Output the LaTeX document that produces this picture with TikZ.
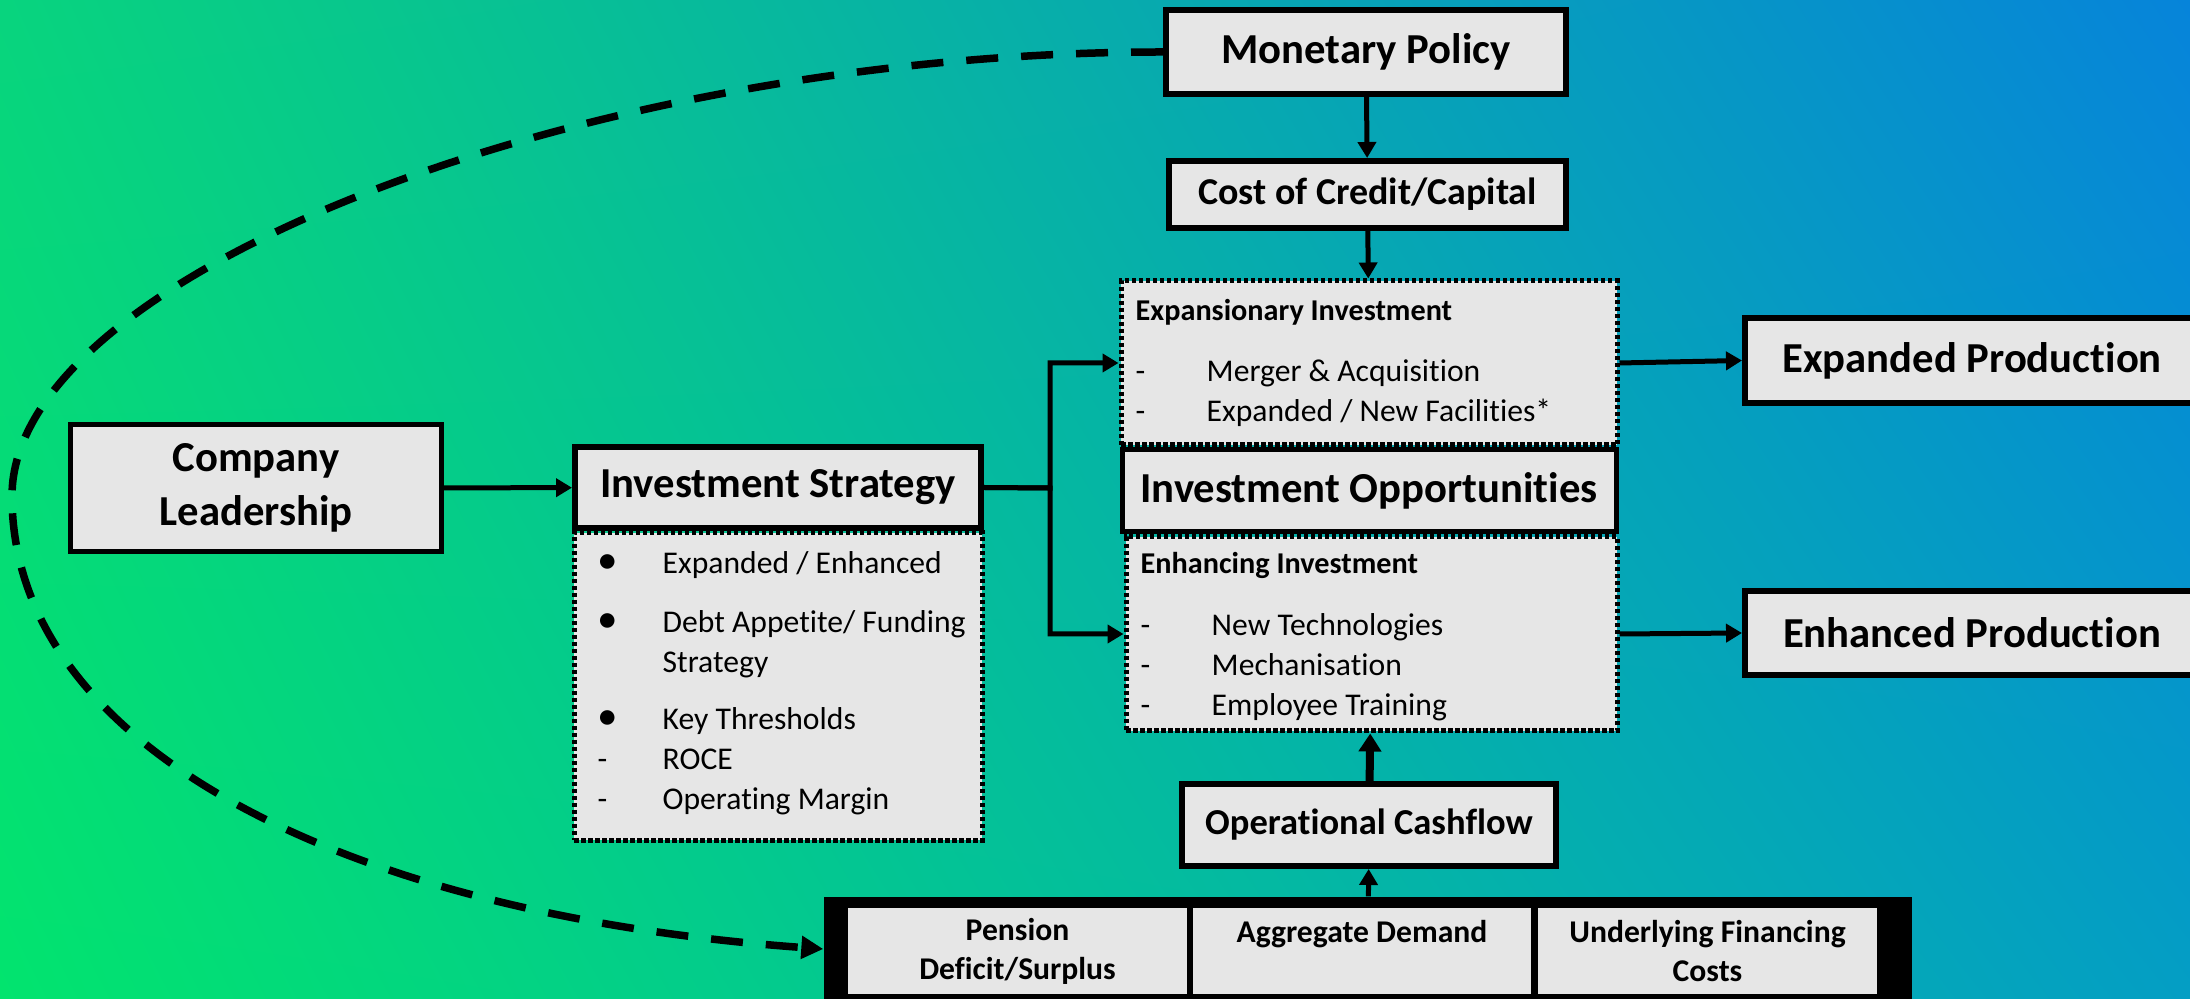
\documentclass[tikz,border=0pt]{standalone}
\usepackage{fontspec}
\setmainfont{Carlito}[Ligatures=NoCommon]
\usepackage{tikz}
\usetikzlibrary{arrows.meta, shadings}

\definecolor{boxgrau}{RGB}{230,230,230}
\definecolor{bgol}{RGB}{8,212,126}
\definecolor{bgor}{RGB}{6,132,218}
\definecolor{bgul}{RGB}{2,228,110}
\definecolor{bgur}{RGB}{4,158,196}

\newcommand{\bul}{\makebox[6.5mm][l]{\scalebox{1.3}{\textbullet}}}
\newcommand{\strich}{\makebox[7.1mm][l]{-}}

\tikzset{
	kasten/.style={draw=black, line width=0.6mm, fill=boxgrau, inner sep=0pt, align=center},
	punktkasten/.style={draw=black, line width=0.5mm, dash pattern=on 0.45mm off 0.25mm, fill=boxgrau, inner sep=0pt},
	zelle/.style={fill=boxgrau, inner sep=0pt, minimum height=8.6mm, align=center, font=\bfseries\fontsize{9}{11.1}\selectfont},
	liste/.style={align=left, inner sep=0pt, anchor=north west, font=\fontsize{9}{11.4}\selectfont},
	gross/.style={font=\bfseries\fontsize{12.15}{15.4}\selectfont},
	pfeil/.style={line width=0.5mm, -{Triangle[length=1.6mm,width=1.8mm]}},
	schleife/.style={line width=0.75mm, dash pattern=on 3.2mm off 2.3mm, -{Triangle[length=2.2mm,width=2.2mm]}}
}

\begin{document}
\begin{tikzpicture}[x=0.1mm, y=-0.1mm]
	% Hintergrund mit Farbverlauf
	\useasboundingbox (0,0) rectangle (2190,999);
	\shade[upper left=bgol, upper right=bgor, lower left=bgul, lower right=bgur] (0,0) rectangle (2190,999);
	
	% Geldpolitik und Kapitalkosten
	\node[kasten, gross, minimum width=40mm, minimum height=8.4mm] (mp) at (1366,52) {Monetary Policy};
	\node[kasten, font=\bfseries\fontsize{10.8}{13}\selectfont, minimum width=39.7mm, minimum height=6.7mm] (coc) at (1367.5,194.5) {Cost of Credit/Capital};
	
	% Unternehmensfuehrung und Strategie
	\node[kasten, gross, line width=0.5mm, minimum width=37.1mm, minimum height=12.7mm] (cl) at (256,488) {Company\\Leadership};
	\node[punktkasten, minimum width=40.8mm, minimum height=30.7mm] (isl) at (778,686.5) {};
	\node[kasten, gross, minimum width=40.6mm, minimum height=8.1mm] (is) at (778,487.5) {Investment Strategy};
	\node[liste] (istext) at (597,545) {\strut\bul Expanded / Enhanced\\[5.4pt]
		\bul Debt Appetite/ Funding\\
		\hspace*{6.5mm}Strategy\\[4.8pt]
		\bul Key Thresholds\\
		\makebox[6.5mm][l]{-}ROCE\\
		\makebox[6.5mm][l]{-}Operating Margin};
	
	% Investitionsmoeglichkeiten
	\node[punktkasten, minimum width=49.6mm, minimum height=16.4mm] (exp) at (1369,363) {};
	\node[punktkasten, minimum width=49.1mm, minimum height=19.4mm] (enh) at (1371.5,634) {};
	\node[kasten, gross, line width=0.5mm, minimum width=49.4mm, minimum height=8.2mm] (io) at (1369,491) {Investment Opportunities};
	\node[liste] (exptext) at (1135,292) {\strut{\bfseries\fontsize{8.6}{11.4}\selectfont Expansionary Investment}\\[6pt]
		\strich Merger \& Acquisition\\
		\strich Expanded / New Facilities*};
	\node[liste] (enhtext) at (1140,545) {\strut{\bfseries\fontsize{8.6}{11.4}\selectfont Enhancing Investment}\\[6.2pt]
		\strich New Technologies\\
		\strich Mechanisation\\
		\strich Employee Training};
	
	% Ergebnisse rechts
	\node[kasten, gross, anchor=west, minimum width=45.4mm, minimum height=8.5mm] (ep) at (1742,360.5) {Expanded Production};
	\node[kasten, gross, anchor=west, minimum width=45.4mm, minimum height=8.4mm] (enp) at (1742,633) {Enhanced Production};
	
	% Cashflow und Einflussfaktoren unten
	\node[kasten, font=\bfseries\fontsize{10.4}{13}\selectfont, minimum width=37.4mm, minimum height=8.2mm] (oc) at (1369,825) {Operational Cashflow};
	\node[fill=black, inner sep=0pt, minimum width=108.8mm, minimum height=10.4mm] (bar) at (1368,949) {};
	\node[zelle, minimum width=33.9mm] (pen) at (1017.5,951) {Pension\\Deficit/Surplus};
	\node[zelle, minimum width=33.8mm] (agg) at (1362,951) {Aggregate Demand\\\mbox{}};
	\node[zelle, minimum width=33.9mm] (fin) at (1707.5,951) {Underlying Financing\\Costs};
	
	% Pfeile
	\draw[pfeil] (mp) -- (coc);
	\draw[pfeil] (coc) -- (exp);
	\draw[pfeil] (cl) -- (is);
	\coordinate (gabel) at (1050,488);
	\draw[pfeil] (is.east) -- (gabel) |- (exp.west);
	\draw[pfeil] (is.east) -- (gabel) |- (enh.west);
	\draw[pfeil] (exp.east) -- (ep.west);
	\draw[pfeil] (enh.east) -- (enp.west);
	\draw[line width=0.8mm, -{Triangle[length=1.8mm,width=2.2mm]}] (oc) -- (enh);
	\draw[pfeil] (bar) -- (oc);
	
	% Rueckkopplung: gestrichelte Schleife
	\coordinate (links) at (12,496);
	\draw[schleife] (mp.west) .. controls (588,52) and (12,274) .. (links)
		.. controls (12,750) and (350,915) .. (bar.west);
\end{tikzpicture}
\end{document}
